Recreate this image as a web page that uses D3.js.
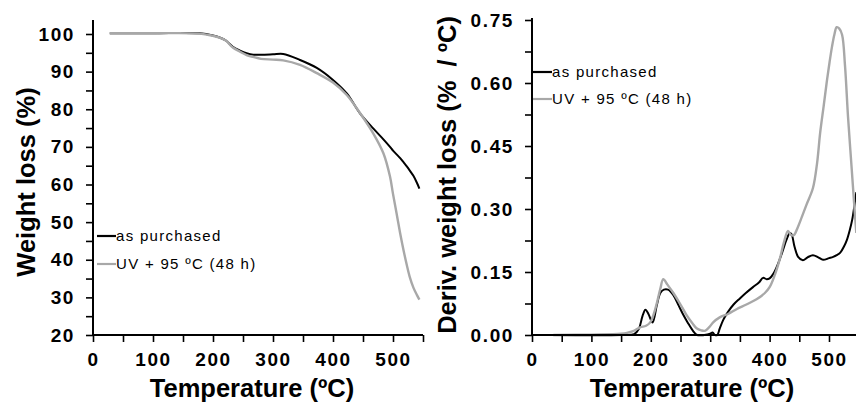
<!DOCTYPE html>
<html><head><meta charset="utf-8">
<script src="https://cdn.jsdelivr.net/npm/d3@7"></script>
<style>
html,body{margin:0;padding:0;background:#fff;}
svg{display:block;}
.tick text{font-family:"Liberation Sans",Arial,sans-serif;font-weight:bold;font-size:19px;letter-spacing:1.6px;fill:#000;}
.title{font-family:"Liberation Sans",Arial,sans-serif;font-weight:bold;font-size:25.5px;fill:#000;}
.leg{font-family:"Liberation Sans",Arial,sans-serif;font-size:15px;letter-spacing:1.3px;fill:#000;}
</style></head>
<body>
<svg id="c" width="856" height="409"></svg>
<script>
// ---- Data ----
const seriesNames = ["as purchased", "UV + 95 \u00BAC (48 h)"];

// TGA (left panel): temperature (°C) and weight (%)
const tgaTemp = [28, 100, 178, 200, 212, 222, 233, 245, 256, 267, 280, 300, 317, 345, 373, 400, 423, 445, 467, 484, 495, 500, 506, 512, 518, 523, 528, 534, 540, 544];
const tgaAsPurchased = [100.2, 100.2, 100.2, 99.6, 99.0, 98.2, 96.6, 95.6, 94.9, 94.5, 94.5, 94.6, 94.7, 93.1, 91.0, 87.8, 84.2, 78.9, 74.9, 72.0, 70.0, 69.0, 68.0, 67.0, 65.8, 64.8, 63.7, 62.3, 60.4, 58.9];
const tgaUV = [100.2, 100.2, 100.1, 99.5, 99.0, 98.2, 96.4, 95.3, 94.4, 93.9, 93.4, 93.2, 93.0, 91.8, 89.6, 87.1, 83.8, 79.0, 73.6, 68.3, 62.1, 57.5, 52.3, 47.0, 42.2, 38.6, 35.4, 32.6, 30.6, 29.4];

// DTG (right panel)
const dtgTempAsPurchased = [30, 150, 172, 180, 186, 191, 196, 203, 210, 216, 222, 229, 238, 247, 254, 262, 271, 278, 290, 300, 304, 308, 312, 316, 322, 330, 339, 350, 360, 372, 382, 389, 395, 400, 406, 412, 417, 422, 428, 434, 437, 442, 448, 456, 464, 473, 482, 490, 500, 507, 513, 519, 525, 530, 535, 539, 544, 546];
const dtgAsPurchased = [0, 0, 0.002, 0.015, 0.045, 0.06, 0.05, 0.03, 0.07, 0.1, 0.108, 0.108, 0.095, 0.07, 0.05, 0.03, 0.01, 0, 0, 0.003, 0.006, 0, 0, 0.015, 0.036, 0.055, 0.072, 0.087, 0.1, 0.114, 0.125, 0.136, 0.133, 0.135, 0.145, 0.162, 0.18, 0.2, 0.225, 0.243, 0.24, 0.21, 0.186, 0.178, 0.185, 0.19, 0.185, 0.179, 0.183, 0.186, 0.19, 0.196, 0.21, 0.226, 0.25, 0.274, 0.32, 0.34];
const dtgTempUV = [36, 100, 150, 160, 170, 182, 192, 199, 205, 210, 216, 221, 228, 238, 249, 260, 270, 277, 285, 291, 298, 305, 316, 330, 345, 360, 378, 392, 400, 408, 417, 424, 431, 436, 441, 447, 454, 462, 473, 480, 485, 491, 496, 501, 505, 509, 513, 517, 522, 527, 532, 538, 544, 546];
const dtgUV = [0, 0.001, 0.003, 0.005, 0.009, 0.018, 0.022, 0.03, 0.05, 0.075, 0.11, 0.133, 0.12, 0.1, 0.075, 0.048, 0.028, 0.016, 0.011, 0.01, 0.018, 0.03, 0.042, 0.05, 0.062, 0.072, 0.085, 0.1, 0.114, 0.14, 0.18, 0.22, 0.248, 0.238, 0.238, 0.255, 0.28, 0.31, 0.35, 0.41, 0.48, 0.545, 0.6, 0.65, 0.686, 0.715, 0.733, 0.73, 0.715, 0.64, 0.52, 0.4, 0.28, 0.243];

// Ticks
const xTicks = [0, 50, 100, 150, 200, 250, 300, 350, 400, 450, 500, 550];
const tgaYTicks = [20, 25, 30, 35, 40, 45, 50, 55, 60, 65, 70, 75, 80, 85, 90, 95, 100];
const dtgYTicks = [0, 0.075, 0.15, 0.225, 0.30, 0.375, 0.45, 0.525, 0.60, 0.675, 0.75];

const colors = ["#000000", "#a8a8a8"];

// ---- Drawing ----
const svg = d3.select("#c");

function panel(opt) {
  const g = svg.append("g");
  const x = d3.scaleLinear().domain([0, 550]).range([opt.x0, opt.x0 + 550 * opt.kx]);
  const y = d3.scaleLinear().domain(opt.yDomain).range([opt.yBottom, opt.yTop]);

  const line = d3.line().x(d => x(d[0])).y(d => y(d[1])).curve(d3.curveCatmullRom.alpha(0.5));
  opt.series.forEach((s, i) => {
    g.append("path").datum(d3.zip(s.t, s.v))
      .attr("fill", "none").attr("stroke", colors[i])
      .attr("stroke-width", i === 0 ? 2 : 2.4)
      .attr("stroke-linejoin", "round").attr("d", line);
  });

  const yAxis = d3.axisLeft(y).tickValues(opt.yTicks).tickSize(7).tickPadding(opt.yPad).tickSizeOuter(0)
    .tickFormat(opt.yFmt);
  const ga = g.append("g").attr("transform", `translate(${opt.x0},0)`).call(yAxis);
  ga.select(".domain").remove();
  ga.selectAll(".tick line").attr("stroke", "#000").attr("stroke-width", 1.6);

  const xAxis = d3.axisBottom(x).tickValues(xTicks).tickSize(7).tickPadding(11).tickSizeOuter(0)
    .tickFormat(d => d % 100 === 0 ? d : "");
  const gx = g.append("g").attr("transform", `translate(0,${opt.yBottom})`).call(xAxis);
  gx.select(".domain").remove();
  gx.selectAll(".tick line").attr("stroke", "#000").attr("stroke-width", 1.6);

  g.append("line").attr("x1", opt.x0).attr("x2", opt.x0)
    .attr("y1", opt.axisTop).attr("y2", opt.yBottom + 1)
    .attr("stroke", "#000").attr("stroke-width", 2);
  g.append("line").attr("x1", opt.x0 - 1).attr("x2", x(550))
    .attr("y1", opt.yBottom).attr("y2", opt.yBottom)
    .attr("stroke", "#000").attr("stroke-width", 2);

  g.append("text").attr("class", "title").attr("text-anchor", "middle")
    .attr("x", opt.xTitleX).attr("y", 397).text("Temperature (\u00BAC)");
  g.append("text").attr("class", "title").attr("text-anchor", "middle")
    .attr("transform", `translate(${opt.yTitleX},${opt.yTitleY}) rotate(-90)`)
    .attr("dy", "0.35em").attr("xml:space", "preserve").text(opt.yTitle);

  seriesNames.forEach((n, i) => {
    const ly = opt.legY + i * opt.legDy;
    g.append("line").attr("x1", opt.legX).attr("x2", opt.legX + 19)
      .attr("y1", ly).attr("y2", ly).attr("stroke", colors[i]).attr("stroke-width", 2.2);
    g.append("text").attr("class", "leg").attr("x", opt.legX + 19).attr("y", ly + 5).text(n);
  });
}

panel({
  x0: 93, kx: 0.6, yDomain: [20, 100], yBottom: 335, yTop: 34, axisTop: 20,
  yTicks: tgaYTicks, yFmt: d => d % 10 === 0 ? d : "", yPad: 11,
  series: [{t: tgaTemp, v: tgaAsPurchased}, {t: tgaTemp, v: tgaUV}],
  xTitleX: 252, yTitleX: 26, yTitleY: 182, yTitle: "Weight loss (%)",
  legX: 97, legY: 236, legDy: 28
});

panel({
  x0: 532, kx: 0.594, yDomain: [0, 0.75], yBottom: 335, yTop: 20, axisTop: 18,
  yTicks: dtgYTicks, yFmt: d => (Math.round(d * 1000) % 150 === 0) ? d3.format(".2f")(d) : "", yPad: 11,
  series: [{t: dtgTempAsPurchased, v: dtgAsPurchased}, {t: dtgTempUV, v: dtgUV}],
  xTitleX: 692, yTitleX: 447, yTitleY: 175, yTitle: "Deriv. weight loss (%  / \u00BAC)",
  legX: 533, legY: 72, legDy: 27
});
</script>
</body></html>
